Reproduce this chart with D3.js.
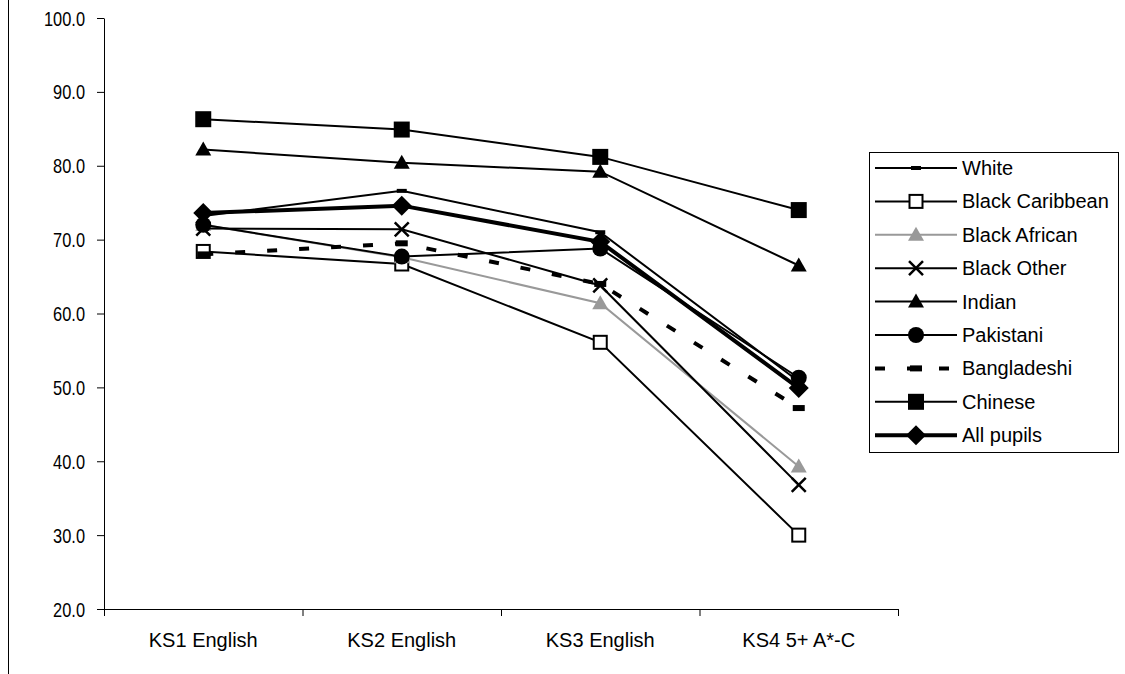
<!DOCTYPE html>
<html>
<head>
<meta charset="utf-8">
<script src="https://cdn.jsdelivr.net/npm/d3@7"></script>
<style>
  body { margin: 0; background: #fff; }
  text { font-family: "Liberation Sans", Arial, sans-serif; fill: #000; }
</style>
</head>
<body>
<div id="chart"></div>
<script>
var width = 1125;
var height = 674;

var categories = ["KS1 English", "KS2 English", "KS3 English", "KS4 5+ A*-C"];
var yTicks = [20, 30, 40, 50, 60, 70, 80, 90, 100];

var seriesNames = ["White", "Black Caribbean", "Black African", "Black Other", "Indian",
  "Pakistani", "Bangladeshi", "Chinese", "All pupils"];

var white = [73.2, 76.6, 71.0, 50.8];
var blackCaribbean = [68.4, 66.7, 56.1, 30.0];
var blackAfrican = [72.0, 67.6, 61.4, 39.3];
var blackOther = [71.5, 71.4, 63.8, 36.8];
var indian = [82.2, 80.4, 79.2, 66.5];
var pakistani = [72.0, 67.7, 68.8, 51.3];
var bangladeshi = [68.0, 69.5, 64.0, 47.2];
var chinese = [86.3, 84.9, 81.2, 74.0];
var allPupils = [73.6, 74.6, 69.7, 49.9];

var values = [white, blackCaribbean, blackAfrican, blackOther, indian,
  pakistani, bangladeshi, chinese, allPupils];

// look of each series: line colour, width, dash, marker
var styles = [
  { color: "#000", w: 2, dash: null, marker: "bar" },
  { color: "#000", w: 2, dash: null, marker: "openSquare" },
  { color: "#999", w: 2, dash: null, marker: "triangle" },
  { color: "#000", w: 2, dash: null, marker: "cross" },
  { color: "#000", w: 2, dash: null, marker: "triangle" },
  { color: "#000", w: 2, dash: null, marker: "circle" },
  { color: "#000", w: 4, dash: "10,22", marker: "bigBar" },
  { color: "#000", w: 2, dash: null, marker: "square" },
  { color: "#000", w: 4, dash: null, marker: "diamond" }
];

var svg = d3.select("#chart")
  .append("svg")
  .attr("width", width)
  .attr("height", height);

// chart border remnant on the left
svg.append("line")
  .attr("x1", 8.5).attr("x2", 8.5)
  .attr("y1", 0).attr("y2", height)
  .attr("stroke", "#000").attr("stroke-width", 1);

var x = d3.scaleBand().domain(categories).range([104, 898]);
var y = d3.scaleLinear().domain([20, 100]).range([609, 18]);

/* axes */
var yAxis = svg.append("g")
  .attr("transform", "translate(104,0)")
  .call(d3.axisLeft(y).tickValues(yTicks).tickSize(7).tickSizeOuter(0).tickFormat(d3.format(".1f")));
yAxis.select(".domain").attr("stroke", "#000");
yAxis.selectAll(".tick line").attr("stroke", "#000");
yAxis.selectAll(".tick text")
  .attr("x", null).attr("dy", null)
  .attr("font-size", "20px")
  .attr("font-family", "Liberation Sans, Arial, sans-serif")
  .attr("text-anchor", "end")
  .attr("dominant-baseline", "central")
  .attr("transform", "translate(-19,0) scale(0.82,1)");

var xAxis = svg.append("g")
  .attr("transform", "translate(0,609)")
  .call(d3.axisBottom(x).tickSize(0).tickSizeOuter(0));
xAxis.select(".domain").attr("stroke", "#000");
xAxis.selectAll(".tick text")
  .attr("y", 38).attr("dy", null)
  .attr("font-size", "20px")
  .attr("font-family", "Liberation Sans, Arial, sans-serif");

// tick marks between categories
var bounds = categories.map(c => x(c)).concat([x.range()[1]]);
svg.append("g").selectAll("line")
  .data(bounds)
  .enter()
  .append("line")
  .attr("x1", d => d + 0.5).attr("x2", d => d + 0.5)
  .attr("y1", 609).attr("y2", 616)
  .attr("stroke", "#000");

function drawMarker(g, type, color) {
  if (type == "bar") {
    g.append("rect").attr("x", -5).attr("y", -2).attr("width", 10).attr("height", 4).attr("fill", color);
  } else if (type == "bigBar") {
    g.append("rect").attr("x", -6).attr("y", -3).attr("width", 12).attr("height", 6).attr("fill", color);
  } else if (type == "openSquare") {
    g.append("rect").attr("x", -6.5).attr("y", -6.5).attr("width", 13).attr("height", 13)
      .attr("fill", "#fff").attr("stroke", color).attr("stroke-width", 2);
  } else if (type == "square") {
    g.append("rect").attr("x", -8).attr("y", -8).attr("width", 16).attr("height", 16).attr("fill", color);
  } else if (type == "triangle") {
    g.append("path").attr("d", "M0,-8L8,6L-8,6Z").attr("fill", color);
  } else if (type == "circle") {
    g.append("circle").attr("r", 8).attr("fill", color);
  } else if (type == "cross") {
    g.append("path").attr("d", "M-7,-7L7,7M-7,7L7,-7").attr("stroke", color).attr("stroke-width", 2.5);
  } else if (type == "diamond") {
    g.append("path").attr("d", "M0,-10L10,0L0,10L-10,0Z").attr("fill", color);
  }
}

var line = d3.line()
  .x((d, i) => x(categories[i]) + x.bandwidth() / 2)
  .y(d => y(d));

values.forEach(function (vals, s) {
  var st = styles[s];
  svg.append("path")
    .datum(vals)
    .attr("d", line)
    .attr("fill", "none")
    .attr("stroke", st.color)
    .attr("stroke-width", st.w)
    .attr("stroke-dasharray", st.dash);
  vals.forEach(function (v, i) {
    var g = svg.append("g")
      .attr("transform", "translate(" + (x(categories[i]) + x.bandwidth() / 2) + "," + y(v) + ")");
    drawMarker(g, st.marker, st.color);
  });
});

/* legend */
var legend = svg.append("g").attr("transform", "translate(869,152)");
legend.append("rect")
  .attr("x", 0.5).attr("y", 0.5)
  .attr("width", 249).attr("height", 300)
  .attr("fill", "#fff").attr("stroke", "#000");

seriesNames.forEach(function (name, i) {
  var st = styles[i];
  var row = legend.append("g").attr("transform", "translate(0," + (16 + i * 33.4) + ")");
  row.append("line")
    .attr("x1", 6).attr("x2", 88)
    .attr("stroke", st.color)
    .attr("stroke-width", st.w)
    .attr("stroke-dasharray", st.dash ? "10,22" : null)
    .attr("stroke-dashoffset", st.dash ? 0 : null);
  var m = row.append("g").attr("transform", "translate(47,0)");
  drawMarker(m, st.marker, st.color);
  row.append("text")
    .attr("x", 93)
    .attr("dominant-baseline", "central")
    .attr("font-size", "20px")
    .text(name);
});
</script>
</body>
</html>
